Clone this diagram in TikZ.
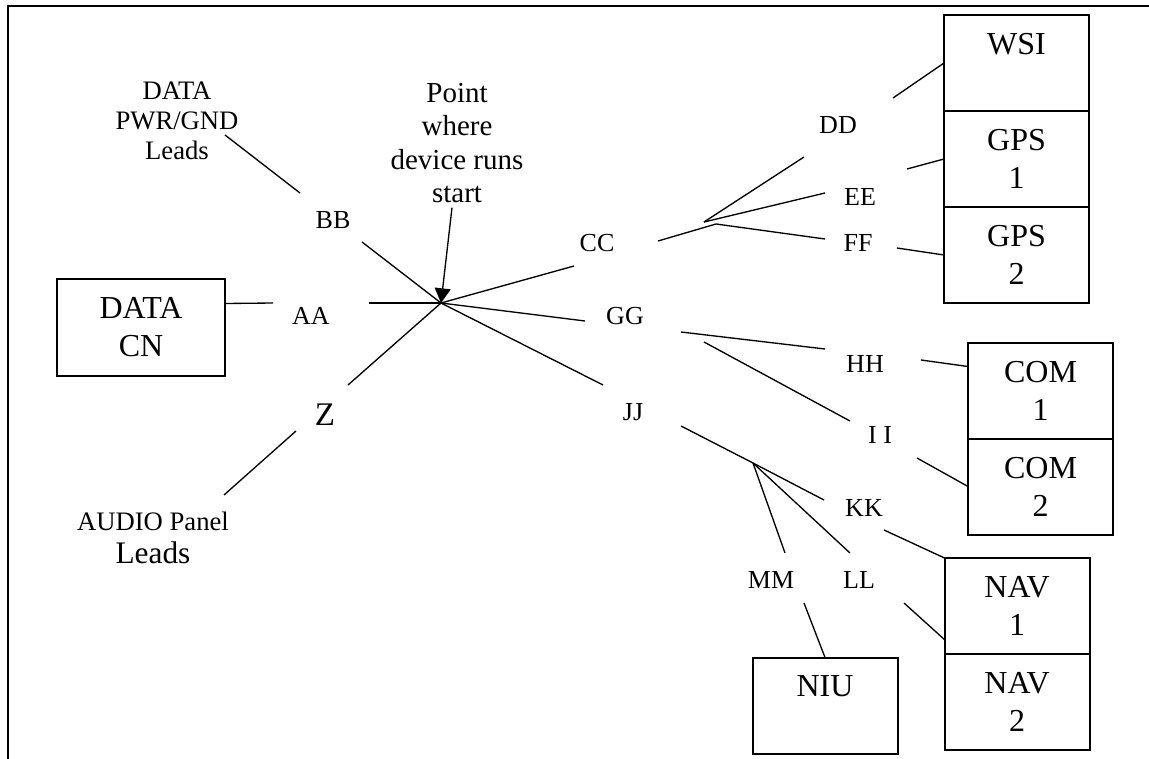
\documentclass[tikz,border=0pt]{standalone}
\usepackage{fontspec}
\setmainfont{Liberation Serif}
\usetikzlibrary{arrows.meta, positioning, calc}

\begin{document}
\begin{tikzpicture}[
    x=0.75pt, y=-0.75pt,
    node distance=0pt,
    unit/.style={rectangle, draw=black, line width=1.5pt, outer sep=0pt, minimum width=108.75pt, minimum height=72pt, align=center, font=\fontsize{24}{28.5}\selectfont},
    tag/.style={inner sep=0pt, font=\fontsize{19.5}{23}\selectfont},
    note/.style={inner sep=0pt, align=center},
    wire/.style={line width=1pt},
    arrow/.style={-{Triangle[length=11pt, width=12pt]}, line width=1pt}
]
\useasboundingbox (0,0) rectangle (1149,759);

% Frame
\draw[line width=1pt] (8,759) -- (8,6) -- (1149,6);

% Hub and split points
\coordinate (hub) at (441,303);
\coordinate (j1a) at (704,222);
\coordinate (j1b) at (716,224);
\coordinate (j2) at (753,463);

% Devices
\node[unit, minimum width=126pt] (datacn) at (141,327.5) {DATA\\CN};
\node[unit] (wsi) at (1016.5,63) {WSI\\~};
\node[unit, below=of wsi] (gps1) {GPS\\1};
\node[unit, below=of gps1] (gps2) {GPS\\2};
\node[unit] (com1) at (1040.5,390.5) {COM\\1};
\node[unit, below=of com1] (com2) {COM\\2};
\node[unit] (nav1) at (1017,606) {NAV\\1};
\node[unit, below=of nav1] (nav2) {NAV\\2};
\node[unit] (niu) at (825,705.5) {NIU\\~};

% Notes
\node[note, font=\fontsize{20}{22.5}\selectfont] (pwrleads) at (177,121) {DATA\\PWR/GND\\Leads};
\node[note, font=\fontsize{21.75}{25}\selectfont] (devstart) at (457,143) {Point\\where\\device runs\\start};
\node[note, font=\fontsize{20}{24.75}\selectfont] (audio) at (153,538) {AUDIO Panel\\\fontsize{23.5}{24.75}\selectfont Leads};

% Run labels
\node[tag] (bb) at (333,220) {BB};
\node[tag] (aa) at (311,316) {AA};
\node[tag, font=\fontsize{24.75}{26}\selectfont] (z) at (325,415) {Z};
\node[tag] (cc) at (597,243) {CC};
\node[tag] (dd) at (838,125) {DD};
\node[tag] (ee) at (860,197) {EE};
\node[tag] (ff) at (858,243) {FF};
\node[tag] (gg) at (625,316) {GG};
\node[tag] (hh) at (865,364) {HH};
\node[tag] (ii) at (880,435) {I I};
\node[tag] (jj) at (633,412) {JJ};
\node[tag] (kk) at (864,508) {KK};
\node[tag] (mm) at (771,580) {MM};
\node[tag] (ll) at (859,580) {LL};

% Wire ends
\coordinate (pwr-end) at (225,135);
\coordinate (bb-up) at (300,193);
\coordinate (bb-dn) at (362,242);
\coordinate (aa-l) at (273,303);
\coordinate (aa-r) at (369,303);
\coordinate (z-up) at (348,385);
\coordinate (z-dn) at (296,431);
\coordinate (audio-end) at (224,495);
\coordinate (cc-l) at (574,266);
\coordinate (cc-r) at (658,241);
\coordinate (dd-l) at (804,157);
\coordinate (dd-r) at (893,98);
\coordinate (ee-l) at (825,193);
\coordinate (ee-r) at (907,169);
\coordinate (ff-l) at (825,239);
\coordinate (ff-r) at (897,248);
\coordinate (gg-l) at (585,321);
\coordinate (gg-hh) at (681,332);
\coordinate (gg-ii) at (704,342);
\coordinate (hh-l) at (825,349);
\coordinate (hh-r) at (921,360);
\coordinate (ii-l) at (850,421);
\coordinate (ii-r) at (917,458);
\coordinate (jj-l) at (603,385);
\coordinate (jj-r) at (681,426);
\coordinate (kk-l) at (824,500);
\coordinate (kk-r) at (884,530);
\coordinate (mm-up) at (785,553);
\coordinate (mm-dn) at (804,603);
\coordinate (ll-up) at (850,553);
\coordinate (ll-dn) at (904,603);

% Runs
\draw[wire] (pwr-end) -- (bb-up);
\draw[wire] (bb-dn) -- (hub);
\draw[wire] ($(datacn.north east)!0.25!(datacn.south east)$) -- (aa-l);
\draw[wire] (aa-r) -- (hub);
\draw[wire] (hub) -- (z-up);
\draw[wire] (z-dn) -- (audio-end);
\draw[wire] (hub) -- (cc-l);
\draw[wire] (cc-r) -- (j1b) -- (ff-l);
\draw[wire] (j1a) -- (dd-l);
\draw[wire] (j1a) -- (ee-l);
\draw[wire] (dd-r) -- (wsi.west);
\draw[wire] (ee-r) -- (gps1.west);
\draw[wire] (ff-r) -- (gps2.west);
\draw[wire] (hub) -- (gg-l);
\draw[wire] (gg-hh) -- (hh-l);
\draw[wire] (gg-ii) -- (ii-l);
\draw[wire] (hh-r) -- ($(com1.north west)!0.25!(com1.south west)$);
\draw[wire] (ii-r) -- (com2.west);
\draw[wire] (hub) -- (jj-l);
\draw[wire] (jj-r) -- (j2) -- (kk-l);
\draw[wire] (j2) -- (mm-up);
\draw[wire] (j2) -- (ll-up);
\draw[wire] (kk-r) -- (nav1.north west);
\draw[wire] (ll-dn) -- ($(nav1.north west)!0.85!(nav1.south west)$);
\draw[wire] (mm-dn) -- (niu.north);

% Start point
\draw[arrow] ([xshift=-3.75pt, yshift=-3.5pt]devstart.south) -- (hub);
\end{tikzpicture}
\end{document}
